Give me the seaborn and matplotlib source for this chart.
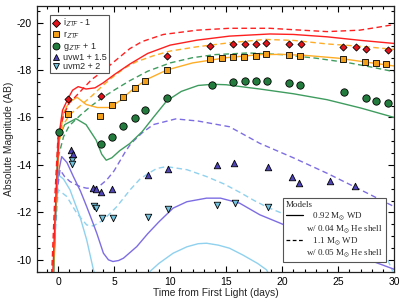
import matplotlib
matplotlib.use("Agg")
import numpy as np
import pandas as pd
import seaborn as sns
import matplotlib.pyplot as plt
from matplotlib.lines import Line2D
from matplotlib.ticker import MultipleLocator

# ===== observed photometry =====
i_day = [0.9, 3.87, 9.68, 13.55, 15.6, 16.67, 17.65, 18.55, 20.6, 21.67, 25.4, 26.58, 27.5, 29.4]
i_mag = [-16.78, -16.92, -18.59, -19.01, -19.09, -19.09, -19.09, -19.15, -19.09, -19.09, -18.98, -18.98, -18.88, -18.84]

r_day = [0.9, 3.78, 4.82, 5.8, 6.85, 7.8, 9.73, 13.55, 14.59, 15.6, 16.6, 17.65, 18.55, 20.6, 21.58, 25.4, 27.4, 28.4, 29.3]
r_mag = [-16.15, -16.08, -16.51, -16.88, -17.23, -17.54, -18.0, -18.45, -18.52, -18.53, -18.56, -18.59, -18.66, -18.63, -18.6, -18.45, -18.35, -18.28, -18.25]

g_day = [0.09, 3.87, 4.86, 5.8, 6.85, 7.8, 9.73, 13.78, 15.6, 16.67, 17.65, 18.6, 20.6, 21.58, 25.5, 27.5, 28.4, 29.46]
g_mag = [-15.38, -14.87, -15.19, -15.64, -15.97, -16.32, -16.81, -17.37, -17.51, -17.54, -17.54, -17.54, -17.44, -17.37, -17.06, -16.83, -16.69, -16.62]

uvw1_day = [1.2, 1.3, 3.13, 3.37, 3.87, 4.86, 8.04, 9.82, 14.14, 15.7, 18.72, 20.9, 21.5, 24.3, 26.5]
uvw1_mag = [-14.65, -14.45, -13.04, -12.98, -12.85, -12.99, -13.58, -13.83, -14.0, -14.07, -13.93, -13.51, -13.23, -13.33, -13.12]

uvm2_day = [1.28, 1.28, 3.21, 3.35, 3.93, 4.91, 8.04, 9.82, 14.14, 15.78, 18.75]
uvm2_mag = [-14.21, -14.03, -12.27, -12.18, -11.76, -11.78, -11.8, -12.15, -12.32, -12.39, -12.22]

# ===== model curves (0.92 Msun solid, 1.1 Msun dashed) =====
i_sol_day = [-0.5, -0.2, 0.1, 0.4, 0.9, 1.3, 1.8, 2.5, 3.3, 4.0, 5.0, 6.4, 8.0, 10.0, 12.4, 15.3, 18.9, 21.0, 24.0, 27.0, 30.0]
i_sol_mag = [-9.0, -12.5, -15.3, -16.3, -16.8, -17.15, -17.3, -17.2, -17.25, -17.45, -17.8, -18.25, -18.7, -19.05, -19.26, -19.43, -19.52, -19.5, -19.4, -19.25, -19.12]
i_das_day = [-0.6, -0.3, 0.0, 0.5, 1.0, 2.0, 3.0, 4.0, 5.0, 6.4, 7.5, 9.4, 12.4, 15.3, 18.9, 21.0, 24.0, 26.9, 28.5, 30.0]
i_das_mag = [-9.0, -12.5, -15.2, -16.1, -16.6, -17.1, -17.6, -17.95, -18.35, -18.9, -19.2, -19.5, -19.68, -19.76, -19.76, -19.7, -19.62, -19.68, -19.8, -19.92]

r_sol_day = [-0.45, -0.2, 0.1, 0.5, 1.0, 1.7, 2.5, 3.5, 4.6, 5.5, 6.7, 7.9, 9.7, 12.0, 15.0, 18.0, 20.0, 22.0, 25.0, 28.0, 30.0]
r_sol_mag = [-9.0, -12.3, -15.0, -16.2, -16.65, -16.85, -16.55, -16.42, -16.42, -16.7, -17.2, -17.6, -18.0, -18.3, -18.52, -18.65, -18.66, -18.62, -18.5, -18.3, -18.17]
r_das_day = [-0.55, -0.25, 0.0, 0.5, 1.0, 2.0, 3.0, 4.0, 5.0, 6.0, 7.0, 8.5, 10.0, 12.4, 15.3, 18.5, 21.0, 24.0, 27.0, 30.0]
r_das_mag = [-9.0, -12.3, -14.8, -15.7, -16.1, -16.5, -16.9, -17.35, -17.75, -18.1, -18.35, -18.6, -18.8, -18.98, -19.15, -19.29, -19.25, -19.1, -19.0, -18.87]

g_sol_day = [-0.4, -0.15, 0.0, 0.6, 1.6, 2.5, 3.4, 3.9, 4.3, 4.8, 5.5, 6.4, 7.5, 8.5, 9.7, 11.0, 12.5, 13.8, 15.0, 18.0, 21.0, 24.0, 27.0, 30.0]
g_sol_mag = [-9.0, -13.0, -15.1, -15.7, -15.95, -15.7, -15.05, -14.45, -14.2, -14.3, -14.6, -14.9, -15.4, -16.0, -16.7, -17.1, -17.35, -17.4, -17.38, -17.2, -17.0, -16.75, -16.4, -16.0]
g_das_day = [-0.5, -0.2, 0.0, 0.5, 1.0, 2.0, 3.0, 4.0, 5.0, 6.4, 8.0, 10.0, 12.0, 14.0, 17.0, 20.0, 23.0, 26.0, 28.0, 30.0]
g_das_mag = [-9.0, -12.0, -14.3, -15.2, -15.65, -16.1, -16.5, -16.85, -17.15, -17.55, -17.95, -18.3, -18.52, -18.65, -18.72, -18.65, -18.5, -18.3, -18.12, -17.93]

w1_sol_day = [-0.45, -0.2, 0.0, 0.33, 0.8, 1.37, 2.0, 2.56, 3.0, 3.46, 4.05, 4.5, 4.9, 5.4, 5.84, 6.4, 7.03, 8.0, 9.0, 10.27, 11.5, 13.25, 14.5, 16.2, 18.0, 19.8, 22.0, 25.0, 28.0, 30.0]
w1_sol_mag = [-9.0, -12.0, -13.6, -14.35, -14.1, -13.51, -12.9, -12.24, -11.7, -11.12, -10.28, -10.0, -9.93, -9.97, -10.07, -10.3, -10.56, -11.1, -11.6, -12.18, -12.45, -12.6, -12.6, -12.39, -11.9, -11.55, -11.1, -10.5, -9.95, -9.6]
w1_das_day = [-0.5, -0.3, -0.1, 0.18, 0.6, 1.07, 2.0, 2.56, 3.16, 3.8, 4.35, 5.0, 5.5, 6.0, 6.5, 7.5, 8.5, 10.5, 12.5, 15.3, 18.0, 21.0, 24.0, 27.0, 30.0]
w1_das_mag = [-9.0, -11.0, -12.8, -13.8, -13.5, -13.3, -13.08, -13.02, -13.02, -13.15, -13.37, -13.75, -14.15, -14.55, -14.9, -15.35, -15.7, -15.94, -15.85, -15.61, -14.91, -14.3, -13.65, -12.95, -12.24]

m2_sol_a_day = [-0.45, -0.2, 0.03, 0.5, 1.07, 1.5, 1.96, 2.56, 3.16, 3.4]
m2_sol_a_mag = [-9.0, -12.0, -13.58, -13.4, -12.95, -12.4, -11.82, -10.84, -9.58, -9.2]
m2_sol_b_day = [8.0, 8.2, 9.0, 10.27, 11.5, 12.5, 13.25, 14.3, 15.3, 16.5, 17.8, 18.6, 18.8]
m2_sol_b_mag = [-9.3, -9.51, -9.85, -10.28, -10.55, -10.68, -10.7, -10.62, -10.49, -10.2, -9.85, -9.58, -9.4]
m2_das_day = [-0.5, -0.25, 0.03, 0.78, 1.67, 2.56, 3.16, 4.05, 5.24, 6.43, 7.3, 7.92, 8.8, 9.68, 11.5, 13.25, 14.8, 16.2, 17.5, 18.75, 19.8, 22.0, 25.0, 27.5, 29.03, 29.86]
m2_das_mag = [-9.0, -11.0, -12.95, -12.67, -11.97, -11.47, -11.43, -11.68, -12.24, -12.95, -13.4, -13.6, -13.85, -13.93, -13.8, -13.51, -13.2, -12.85, -12.5, -12.2, -12.0, -11.5, -11.0, -10.7, -10.42, -9.51]

# ===== style =====
sns.set_style("ticks")
plt.rcParams['font.family'] = ['Liberation Sans', 'DejaVu Sans']
plt.rcParams['axes.unicode_minus'] = False
plt.rcParams['mathtext.fontset'] = 'stix'

C_I, C_R, C_G, C_W1, C_M2 = "#ff1f1f", "#ffad26", "#3f9c5f", "#7d6de3", "#8fd1ee"
M_I, M_R, M_G, M_W1, M_M2 = "#e3141b", "#f2a01c", "#237c3e", "#4f44b8", "#72c2de"
DASH = (4, 2.5)
LW = 1.0

fig = plt.figure(figsize=(4.07, 2.99), dpi=100)
ax = fig.add_axes([0.0902, 0.0913, 0.8786, 0.8887])

curves = [
    (m2_sol_a_day, m2_sol_a_mag, C_M2, False),
    (m2_sol_b_day, m2_sol_b_mag, C_M2, False),
    (m2_das_day, m2_das_mag, C_M2, True),
    (w1_sol_day, w1_sol_mag, C_W1, False),
    (w1_das_day, w1_das_mag, C_W1, True),
    (g_sol_day, g_sol_mag, C_G, False),
    (g_das_day, g_das_mag, C_G, True),
    (r_sol_day, r_sol_mag, C_R, False),
    (r_das_day, r_das_mag, C_R, True),
    (i_sol_day, i_sol_mag, C_I, False),
    (i_das_day, i_das_mag, C_I, True),
]
for xd, yd, col, dashed in curves:
    kw = dict(dashes=DASH) if dashed else {}
    sns.lineplot(x=xd, y=yd, color=col, lw=LW, sort=False, estimator=None, ax=ax, **kw)

points = [
    (uvm2_day, uvm2_mag, "v", M_M2, 22),
    (uvw1_day, uvw1_mag, "^", M_W1, 22),
    (g_day, g_mag, "o", M_G, 28),
    (r_day, r_mag, "s", M_R, 22),
    (i_day, i_mag, "D", M_I, 13),
]
for xd, yd, mk, col, s in points:
    sns.scatterplot(x=xd, y=yd, marker=mk, s=s, color=col, edgecolor="black",
                    linewidth=0.6, ax=ax, zorder=5)

ax.set_xlim(-1.9, 30)
ax.set_ylim(-9.5, -20.7)
ax.xaxis.set_major_locator(MultipleLocator(5))
ax.xaxis.set_minor_locator(MultipleLocator(1))
ax.yaxis.set_major_locator(MultipleLocator(2))
ax.yaxis.set_minor_locator(MultipleLocator(0.5))
ax.tick_params(which='both', direction='in', top=True, right=True, width=0.8, colors='black', labelsize=7.5)
ax.tick_params(which='major', length=4)
ax.tick_params(which='minor', length=2)
for sp in ax.spines.values():
    sp.set_linewidth(0.9)
    sp.set_color('#222222')
ax.set_xlabel("Time from First Light (days)", fontsize=7.4, labelpad=1)
ax.set_ylabel("Absolute Magnitude (AB)", fontsize=7.4, labelpad=2)

# ===== legends =====
h1 = [
    Line2D([], [], ls='none', marker='D', ms=3.6, mfc=M_I, mec='k', mew=0.6),
    Line2D([], [], ls='none', marker='s', ms=4.5, mfc=M_R, mec='k', mew=0.6),
    Line2D([], [], ls='none', marker='o', ms=5, mfc=M_G, mec='k', mew=0.6),
    Line2D([], [], ls='none', marker='^', ms=4.5, mfc=M_W1, mec='k', mew=0.6),
    Line2D([], [], ls='none', marker='v', ms=4.5, mfc=M_M2, mec='k', mew=0.6),
]
l1 = [r"i$_{\mathsf{ZTF}}$ - 1", r"r$_{\mathsf{ZTF}}$", r"g$_{\mathsf{ZTF}}$ + 1", "uvw1 + 1.5", "uvm2 + 2"]
leg1 = ax.legend(h1, l1, loc='upper left', bbox_to_anchor=(0.037, 0.967), borderaxespad=0,
                 fontsize=6.5, handlelength=0.8, handletextpad=0.45, labelspacing=0.02,
                 borderpad=0.25, fancybox=False, edgecolor='#555555', framealpha=1)
leg1.get_frame().set_linewidth(0.8)
ax.add_artist(leg1)

serif = {'family': ['Liberation Serif', 'DejaVu Serif'], 'size': 6.5}
h2 = [
    Line2D([], [], color='k', lw=0.9),
    Line2D([], [], color='none'),
    Line2D([], [], color='k', lw=0.9, dashes=(3, 2)),
    Line2D([], [], color='none'),
]
l2 = [r"   0.92 M$_{\odot}$ WD", r"w/ 0.04 M$_{\odot}$ He shell",
      r"   1.1 M$_{\odot}$ WD", r"w/ 0.05 M$_{\odot}$ He shell"]
leg2 = ax.legend(h2, l2, title="Models", loc='lower right', bbox_to_anchor=(0.977, 0.0365),
                 borderaxespad=0, prop=serif, title_fontproperties=serif, alignment='left',
                 handlelength=1.9, handletextpad=0.4, labelspacing=0.05, borderpad=0.35,
                 fancybox=False, edgecolor='#555555', framealpha=1)
leg2.get_frame().set_linewidth(0.8)
leg2._legend_box.sep = 1

fig.savefig("out.png", dpi=100)
